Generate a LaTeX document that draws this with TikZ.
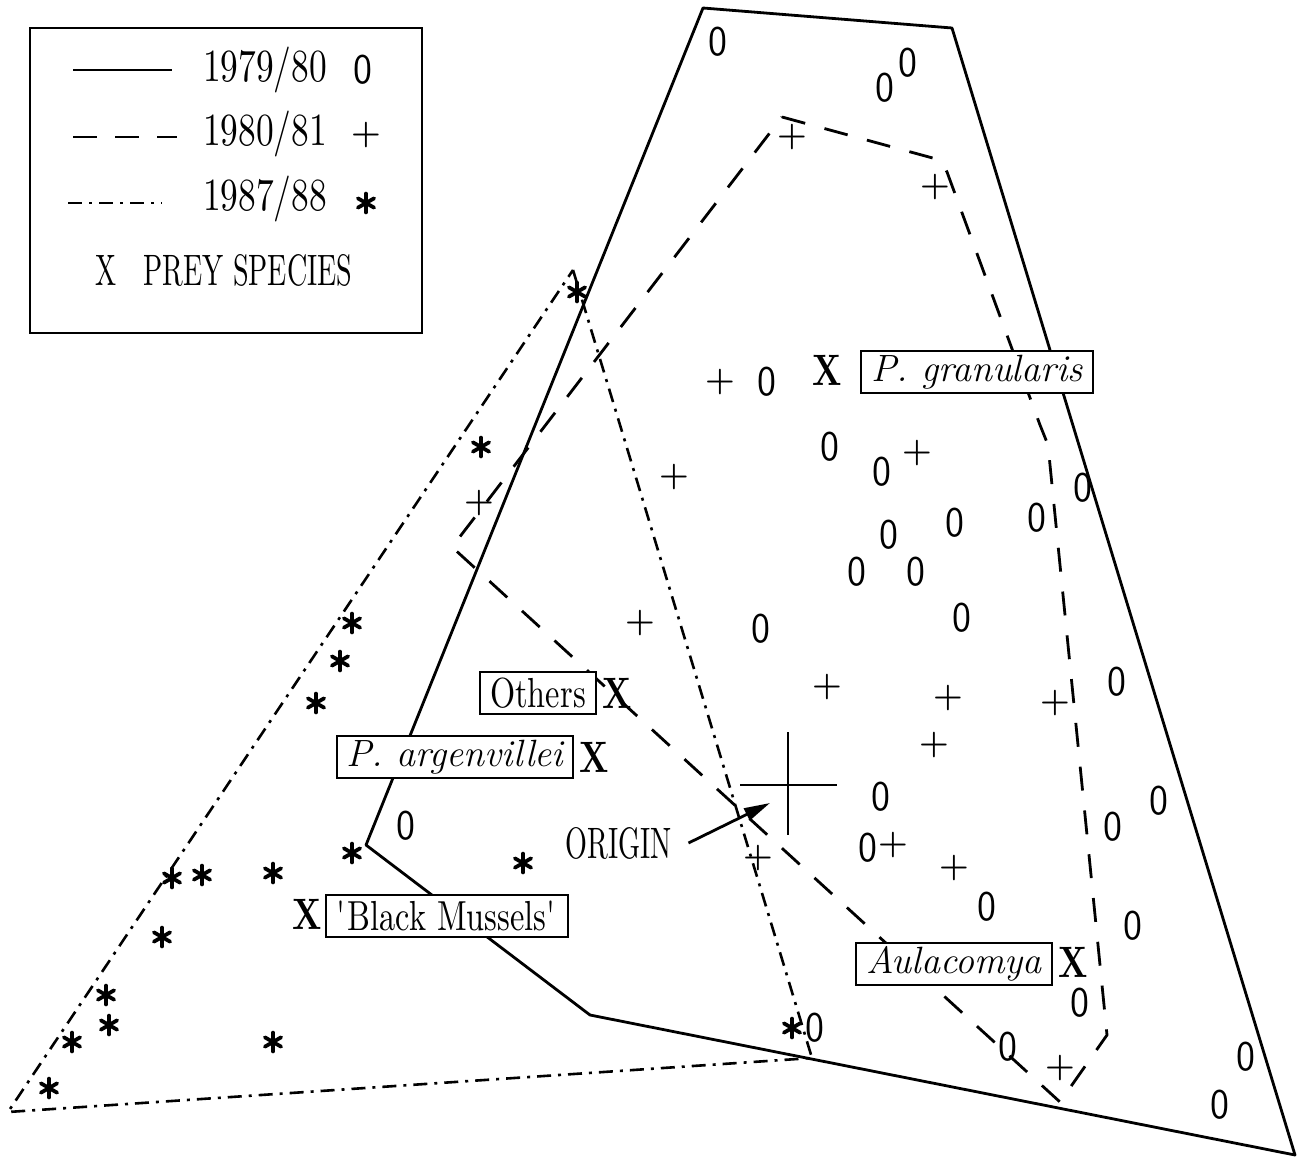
\documentclass[tikz,border=0pt]{standalone}
\usepackage{fontspec}
\usetikzlibrary{arrows.meta}
\newfontfamily\narrowrm{lmroman10-regular.otf}[FakeStretch=0.77,BoldFont=lmroman10-bold.otf]
\newfontfamily\capsrm{lmroman10-regular.otf}[FakeStretch=0.64]
\newfontfamily\zerosf{lmsans10-regular.otf}[FakeStretch=0.9]

\begin{document}
\begin{tikzpicture}[x=0.5pt, y=-0.5pt,
    yrA/.style={line width=1.4pt, line join=round},
    yrB/.style={line width=1.4pt, dash pattern=on 12pt off 10pt},
    yrC/.style={line width=1.3pt, dash pattern=on 7pt off 3.5pt on 1.5pt off 3.5pt},
    txt/.style={font=\narrowrm\fontsize{23}{26}\selectfont, inner sep=0pt},
    caps/.style={font=\capsrm\fontsize{22}{26}\selectfont, inner sep=0pt},
    mk/.style={font=\zerosf\fontsize{21}{24}\selectfont, inner sep=0pt},
    pl/.style={font=\bfseries\fontsize{17}{20}\selectfont, inner sep=0pt},
    st/.style={circle, inner sep=0pt, minimum size=13pt,
               path picture={\foreach \a in {90,30,-30}
                 \draw[line width=1.9pt, line cap=round] (path picture bounding box.center)
                   ++(\a:4.7pt) -- ++(\a+180:9.4pt);}},
    prey/.style={font=\narrowrm\bfseries\fontsize{22}{24}\selectfont, inner sep=0pt},
    spec/.style={draw, fill=white, line width=1pt, inner xsep=5pt, inner ysep=2pt,
                 minimum height=21pt, font=\itshape\fontsize{19}{22}\selectfont},
    specup/.style={spec, font=\narrowrm\fontsize{21}{24}\selectfont}]
\useasboundingbox (0,0) rectangle (1307,1161);

\draw[yrA] (703,8) -- (952,28) -- (1295,1155) -- (590,1015) -- (366,845) -- cycle;
\draw[yrB] (782,117) -- (940,160) -- (947,172) -- (1040,425) -- (1048,445)
           -- (1107,1035) -- (1060,1102) -- (452,547) -- cycle;
\draw[yrC] (573,270) -- (812,1058) -- (8,1112) -- cycle;

\foreach \x/\y [count=\i] in {718/42, 885/88, 908/63, 767/382, 830/447, 882/472,
    1083/488, 955/523, 1037/518, 889/535, 857/572, 916/572, 962/618, 761/629,
    1117/682, 881/797, 1159/801, 1113/827, 868/848, 406/826, 987/907, 1133/926,
    1080/1003, 1008/1047, 1246/1057, 1220/1105, 815/1028}
  \node[mk] (zero\i) at (\x,\y) {0};
\foreach \x/\y [count=\i] in {792/137, 935/187, 720/382, 917/453, 674/477, 479/503,
    640/623, 827/687, 948/698, 1055/703, 934/745, 893/845, 954/868, 758/858, 1060/1068}
  \node[pl] (plus\i) at (\x,\y) {+};
\foreach \x/\y [count=\i] in {577/292, 481/447, 352/623, 340/661, 316/703, 172/878,
    202/875, 273/873, 352/853, 523/863, 162/937, 106/995, 109/1025, 72/1042,
    273/1042, 49/1088, 792/1028}
  \node[st] (star\i) at (\x,\y) {};

\node[spec] (pgran) at (977,372) {P. granularis};
\node[prey] (xgran) at (827,370) {X};
\node[specup] (others) at (538,693) {Others};
\node[prey] (xothers) at (617,693) {X};
\node[spec] (parg) at (455,757) {P. argenvillei};
\node[prey] (xparg) at (594,757) {X};
\node[specup] (bmus) at (447,916) {\textquotesingle Black Mussels\textquotesingle};
\node[prey] (xbmus) at (307,914) {X};
\node[spec] (aula) at (954,964) {Aulacomya};
\node[prey] (xaula) at (1073,962) {X};

\draw[line width=1pt] (740,785) -- (837,785);
\draw[line width=1pt] (788,732) -- (788,835);
\node[caps] (lorig) at (619,843) {ORIGIN};
\coordinate (otip) at (770,803);
\draw[line width=1.4pt, -{Triangle[length=13pt,width=6.5pt]}] ([xshift=8pt]lorig.east) -- (otip);

\draw[line width=1.3pt] (30,28) rectangle (422,333);
\draw[yrA] (73,70) -- (172,70);
\draw[yrB, dash pattern=on 12pt off 9pt] (73,137) -- (177,137);
\draw[yrC] (68,203) -- (162,203);
\node[txt] (l79) at (265,70) {1979/80};
\node[mk] (l79m) at (363,70) {0};
\node[txt] (l80) at (265,134) {1980/81};
\node[pl] (l80m) at (366,135) {+};
\node[txt] (l87) at (265,199) {1987/88};
\node[st] (l87m) at (366,203) {};
\node[caps] (lx) at (106,270) {X};
\node[caps] (lprey) at (248,270) {PREY SPECIES};
\end{tikzpicture}
\end{document}
